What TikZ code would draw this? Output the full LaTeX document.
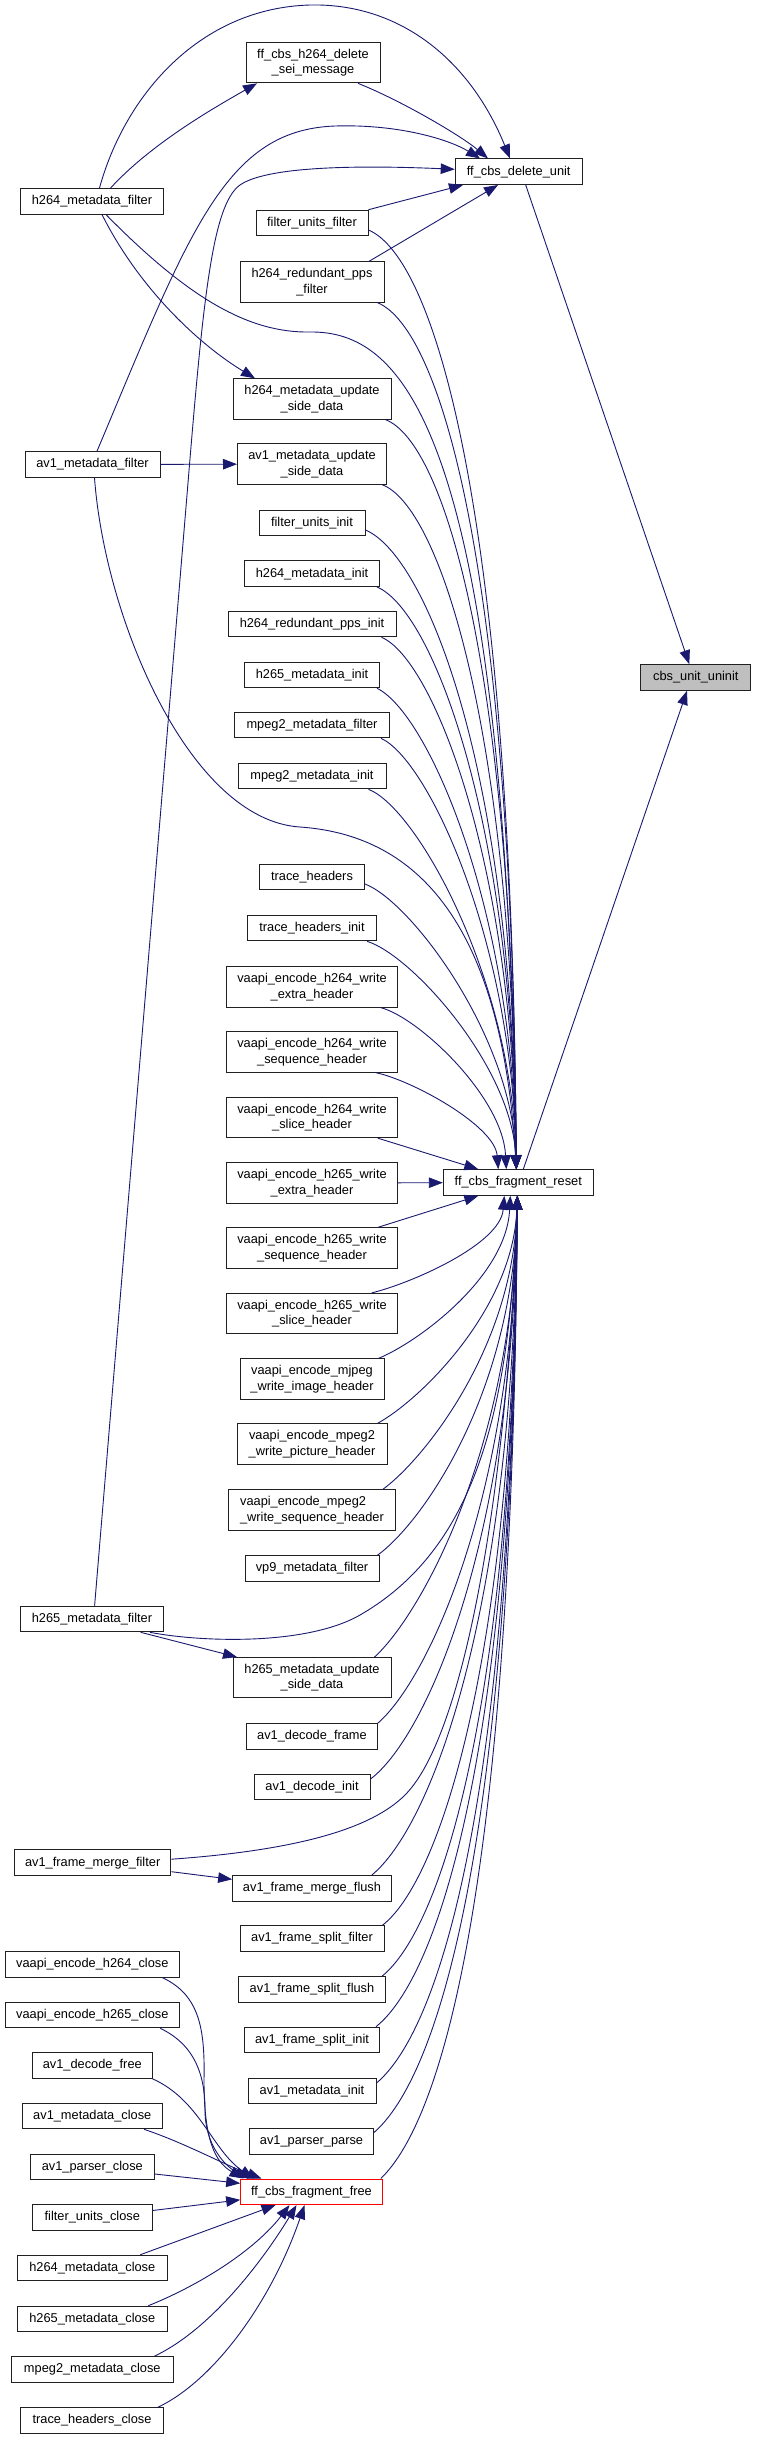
\documentclass[tikz,border=0pt]{standalone}
\usepackage{fontspec}
\setmainfont{Liberation Sans}
\usetikzlibrary{arrows.meta,calc}
\definecolor{edgec}{HTML}{191970}
\definecolor{nodegray}{HTML}{BFBFBF}
\definecolor{bordc}{HTML}{202020}
\newcommand\myredge[5]{\draw[calledge] let \p1=(#1), \p2=(#2) in (\p1) .. controls ({\x1+#3*(\x2-\x1)},{\y1+#4*(\y2-\y1)}) and ({\x2-0.03*(\x2-\x1)},{\y1+#5*(\y2-\y1)}) .. (\p2);}
\begin{document}
\begin{tikzpicture}[x=1pt,y=-1pt,
  fnbox/.style={draw=bordc, line width=1pt, fill=white, minimum height=25.6pt, inner xsep=4pt, inner ysep=0pt, align=center, font=\fontsize{12.8}{15.7}\selectfont},
  fnbox2/.style={fnbox, minimum height=40.3pt},
  calledge/.style={draw=edgec, line width=0.9pt, -{Triangle[length=14pt,width=10.5pt]}}]
\fill[white] (0,0) rectangle (756,2439);
\useasboundingbox (0,0) rectangle (756,2439);
% nodes
\node[fnbox2,minimum width=134pt] (sei) at (313,62.7) {ff\_cbs\_h264\_delete\\\_sei\_message};
\node[fnbox,minimum width=127pt] (delunit) at (518.7,171.7) {ff\_cbs\_delete\_unit};
\node[fnbox,minimum width=110pt,fill=nodegray] (uninit) at (695.8,677.5) {cbs\_unit\_uninit};
\node[fnbox,minimum width=143pt] (h264mf) at (92,201.3) {h264\_metadata\_filter};
\node[fnbox,minimum width=112pt] (fuf) at (312,223) {filter\_units\_filter};
\node[fnbox2,minimum width=144pt] (h264rpf) at (312,282) {h264\_redundant\_pps\\\_filter};
\node[fnbox2,minimum width=158pt] (h264mus) at (312,399) {h264\_metadata\_update\\\_side\_data};
\node[fnbox,minimum width=135pt] (av1mf) at (92.5,464.5) {av1\_metadata\_filter};
\node[fnbox2,minimum width=149pt] (av1mus) at (312,464) {av1\_metadata\_update\\\_side\_data};
\node[fnbox,minimum width=106pt] (fui) at (312,523) {filter\_units\_init};
\node[fnbox,minimum width=135pt] (h264mi) at (312,573.7) {h264\_metadata\_init};
\node[fnbox,minimum width=168pt] (h264rpi) at (312,624) {h264\_redundant\_pps\_init};
\node[fnbox,minimum width=135pt] (h265mi) at (312,675) {h265\_metadata\_init};
\node[fnbox,minimum width=155pt] (m2mf) at (312,725) {mpeg2\_metadata\_filter};
\node[fnbox,minimum width=148pt] (m2mi) at (312,776) {mpeg2\_metadata\_init};
\node[fnbox,minimum width=105pt] (th) at (312,877) {trace\_headers};
\node[fnbox,minimum width=129pt] (thi) at (312,928) {trace\_headers\_init};
\node[fnbox2,minimum width=170.6pt] (v264e) at (312,987) {vaapi\_encode\_h264\_write\\\_extra\_header};
\node[fnbox2,minimum width=170.6pt] (v264seq) at (312,1052) {vaapi\_encode\_h264\_write\\\_sequence\_header};
\node[fnbox2,minimum width=170.6pt] (v264sl) at (312,1117.5) {vaapi\_encode\_h264\_write\\\_slice\_header};
\node[fnbox2,minimum width=170.6pt] (v265e) at (312,1183) {vaapi\_encode\_h265\_write\\\_extra\_header};
\node[fnbox,minimum width=150pt] (reset) at (518.3,1182.5) {ff\_cbs\_fragment\_reset};
\node[fnbox2,minimum width=170.6pt] (v265seq) at (312,1248) {vaapi\_encode\_h265\_write\\\_sequence\_header};
\node[fnbox2,minimum width=170.6pt] (v265sl) at (312,1313.5) {vaapi\_encode\_h265\_write\\\_slice\_header};
\node[fnbox2,minimum width=144pt] (vmjpeg) at (312,1379) {vaapi\_encode\_mjpeg\\\_write\_image\_header};
\node[fnbox2,minimum width=150pt] (vm2pic) at (312,1444) {vaapi\_encode\_mpeg2\\\_write\_picture\_header};
\node[fnbox2,minimum width=166.6pt,align=left] (vm2seq) at (312,1510) {vaapi\_encode\_mpeg2\\\_write\_sequence\_header};
\node[fnbox,minimum width=134pt] (vp9) at (312,1568.5) {vp9\_metadata\_filter};
\node[fnbox,minimum width=143pt] (h265mf) at (92,1619) {h265\_metadata\_filter};
\node[fnbox2,minimum width=158pt] (h265mus) at (312,1677.7) {h265\_metadata\_update\\\_side\_data};
\node[fnbox,minimum width=130.6pt] (av1df) at (312,1736.5) {av1\_decode\_frame};
\node[fnbox,minimum width=116pt] (av1di) at (312,1787) {av1\_decode\_init};
\node[fnbox,minimum width=156.5pt] (av1fmf) at (92.7,1862.7) {av1\_frame\_merge\_filter};
\node[fnbox,minimum width=158.7pt] (av1fmfl) at (312,1888.3) {av1\_frame\_merge\_flush};
\node[fnbox,minimum width=144pt] (av1fsf) at (312,1938.5) {av1\_frame\_split\_filter};
\node[fnbox,minimum width=174.6pt] (v264c) at (92.3,1964.3) {vaapi\_encode\_h264\_close};
\node[fnbox,minimum width=147pt] (av1fsfl) at (312,1989.5) {av1\_frame\_split\_flush};
\node[fnbox,minimum width=174.6pt] (v265c) at (92.3,2015) {vaapi\_encode\_h265\_close};
\node[fnbox,minimum width=135pt] (av1fsi) at (312,2040) {av1\_frame\_split\_init};
\node[fnbox,minimum width=119.5pt] (av1dfree) at (92.3,2065.5) {av1\_decode\_free};
\node[fnbox,minimum width=128pt] (av1mi) at (312,2091) {av1\_metadata\_init};
\node[fnbox,minimum width=140.6pt] (av1mc) at (92.3,2116) {av1\_metadata\_close};
\node[fnbox,minimum width=124pt] (av1pp) at (311.5,2141.5) {av1\_parser\_parse};
\node[fnbox,minimum width=124pt] (av1pc) at (92.3,2167) {av1\_parser\_close};
\node[fnbox,minimum width=141.6pt,draw=red] (free) at (311.5,2191.8) {ff\_cbs\_fragment\_free};
\node[fnbox,minimum width=119.5pt] (fuc) at (92.3,2217.5) {filter\_units\_close};
\node[fnbox,minimum width=150.5pt] (h264mc) at (92.3,2268) {h264\_metadata\_close};
\node[fnbox,minimum width=150.5pt] (h265mc) at (92.3,2319) {h265\_metadata\_close};
\node[fnbox,minimum width=161.4pt] (m2mc) at (92.3,2369.5) {mpeg2\_metadata\_close};
\node[fnbox,minimum width=143pt] (thc) at (92,2420.5) {trace\_headers\_close};
% edges to cbs_unit_uninit
\draw[calledge] ([xshift=7pt]delunit.south) -- ([xshift=-6.5pt]uninit.north);
\draw[calledge] ([xshift=5pt]reset.north) -- ([xshift=-8.8pt]uninit.south);
% edges to ff_cbs_delete_unit and others
\draw[calledge] ([xshift=45pt]sei.south) .. controls (400,100) and (460,135) .. ([xshift=-30.7pt]delunit.north);
\draw[calledge] ([xshift=18.6pt]h264mf.north) .. controls (150,145) and (210,110) .. ([xshift=-56pt]sei.south);
\draw[calledge] ([xshift=7.5pt]h264mf.north) .. controls (125,95) and (200,8) .. (310,5) .. controls (400,3) and (470,60) .. ([xshift=-8.7pt]delunit.north);
\draw[calledge] ([xshift=10pt]h264mf.south) .. controls (140,290) and (200,345) .. ([xshift=-57pt]h264mus.north);
\draw[calledge] ([xshift=14pt]h264mf.south) .. controls (190,300) and (250,333) .. (310,332) .. controls (400,331) and (505,420) .. ([xshift=-2pt]reset.north);
\draw[calledge] ([xshift=4.5pt]av1mf.north) .. controls (190,230) and (225,130) .. (335,126) .. controls (400,124) and (450,140) .. ([xshift=-38.7pt]delunit.north);
\draw[calledge] (av1mf) -- (av1mus);
\draw[calledge] ([xshift=2pt]av1mf.south) .. controls (105,620) and (190,820) .. (300,827) .. controls (400,834) and (500,900) .. ([xshift=-2pt]reset.north);
\draw[calledge] (fuf.north east) -- ([xshift=-55.7pt]delunit.south);
\draw[calledge] ([xshift=57pt]h264rpf.north) -- ([xshift=-20.7pt]delunit.south);
\draw[calledge] ([xshift=2.6pt]h265mf.north) -- (187,495) .. controls (203,300) and (212,205) .. (240,185) .. controls (270,164) and (380,166) .. ([yshift=2.4pt]delunit.west);
\draw[calledge] ([xshift=48.7pt]h265mf.south) -- ([xshift=-75pt]h265mus.north);
\draw[calledge] ([xshift=58pt]h265mf.south) .. controls (200,1642) and (306,1646) .. (360,1615) .. controls (480,1546) and (510,1400) .. ([xshift=-1pt]reset.south);
\draw[calledge] ([yshift=3.5pt]av1fmf.east) .. controls (300,1850) and (372,1828) .. (405,1795) .. controls (470,1730) and (510,1450) .. ([xshift=-1pt]reset.south);
\draw[calledge] ([yshift=-9pt]av1fmf.east) -- ([yshift=9pt]av1fmfl.west);
\draw[calledge] (v265e) -- (reset);
\draw[calledge] ([xshift=-20pt]v264sl.south east) -- ([xshift=-40pt]reset.north);
\draw[calledge] ([xshift=-20pt]v265seq.north east) -- ([xshift=-40pt]reset.south);
% fan into ff_cbs_fragment_reset from above
\myredge{[yshift=-7pt]fuf.east}{[xshift=-2pt]reset.north}{0.45}{0.03}{0.3}
\myredge{[xshift=-7pt]h264rpf.south east}{[xshift=-2pt]reset.north}{0.45}{0.03}{0.3}
\myredge{[xshift=-6pt]h264mus.south east}{[xshift=-2pt]reset.north}{0.45}{0.03}{0.33}
\myredge{[xshift=-5pt]av1mus.south east}{[xshift=-2pt]reset.north}{0.42}{0.03}{0.35}
\myredge{[yshift=-7pt]fui.east}{[xshift=-2pt]reset.north}{0.4}{0.04}{0.37}
\myredge{[xshift=-3pt]h264mi.south east}{[xshift=-2pt]reset.north}{0.4}{0.04}{0.4}
\myredge{[xshift=-15pt]h264rpi.south east}{[xshift=-2pt]reset.north}{0.38}{0.04}{0.42}
\myredge{[xshift=-3pt]h265mi.south east}{[xshift=-2pt]reset.north}{0.36}{0.05}{0.45}
\myredge{[xshift=-9pt]m2mf.south east}{[xshift=-2pt]reset.north}{0.35}{0.05}{0.47}
\myredge{[xshift=-18pt]m2mi.south east}{[xshift=-2pt]reset.north}{0.33}{0.05}{0.5}
\myredge{[yshift=-7pt]th.east}{[xshift=-2pt]reset.north}{0.3}{0.06}{0.53}
\myredge{[xshift=-10pt]thi.south east}{[xshift=-2pt]reset.north}{0.3}{0.06}{0.55}
\myredge{[xshift=-17pt]v264e.south east}{[xshift=-12pt]reset.north}{0.3}{0.06}{0.55}
\myredge{[xshift=-22pt]v264seq.south east}{[xshift=-20pt]reset.north}{0.3}{0.08}{0.55}
% fan into ff_cbs_fragment_reset from below
\myredge{[xshift=-26pt]v265sl.north east}{[xshift=-14pt]reset.south}{0.3}{0.1}{0.5}
\myredge{[xshift=-6pt]vmjpeg.north east}{[xshift=-8pt]reset.south}{0.3}{0.1}{0.5}
\myredge{[xshift=-10pt]vm2pic.north east}{[xshift=-1pt]reset.south}{0.3}{0.1}{0.5}
\myredge{[xshift=-13pt]vm2seq.north east}{[xshift=-1pt]reset.south}{0.3}{0.1}{0.48}
\myredge{[xshift=-2pt]vp9.north east}{[xshift=-1pt]reset.south}{0.32}{0.09}{0.45}
\myredge{[xshift=-17pt]h265mus.north east}{[xshift=-1pt]reset.south}{0.32}{0.09}{0.45}
\myredge{av1df.north east}{[xshift=-1pt]reset.south}{0.35}{0.08}{0.42}
\myredge{[yshift=8pt]av1di.east}{[xshift=-1pt]reset.south}{0.37}{0.07}{0.4}
\myredge{[xshift=-20pt]av1fmfl.north east}{[xshift=-1pt]reset.south}{0.4}{0.07}{0.38}
\myredge{[xshift=-2pt]av1fsf.north east}{[xshift=-1pt]reset.south}{0.42}{0.06}{0.36}
\myredge{[xshift=-4pt]av1fsfl.north east}{[xshift=-1pt]reset.south}{0.43}{0.06}{0.34}
\myredge{[xshift=-4pt]av1fsi.north east}{[xshift=-1pt]reset.south}{0.44}{0.06}{0.33}
\myredge{[yshift=8pt]av1mi.east}{[xshift=-1pt]reset.south}{0.45}{0.06}{0.32}
\myredge{[yshift=9pt]av1pp.east}{[xshift=-1pt]reset.south}{0.45}{0.06}{0.31}
\myredge{[xshift=-2pt]free.north east}{[xshift=-1pt]reset.south}{0.45}{0.06}{0.3}
% into ff_cbs_fragment_free
\draw[calledge] ([xshift=70pt]v264c.south) .. controls (200,1995) and (205,2030) .. (204,2080) .. controls (204,2140) and (215,2162) .. ([xshift=-68pt]free.north);
\draw[calledge] ([xshift=68pt]v265c.south) .. controls (195,2045) and (205,2075) .. (205,2110) .. controls (205,2145) and (225,2166) .. ([xshift=-63pt]free.north);
\draw[calledge] (av1dfree.south east) .. controls (200,2100) and (212,2150) .. ([xshift=-58pt]free.north);
\draw[calledge] ([xshift=-19pt]av1mc.south east) .. controls (185,2143) and (225,2165) .. ([xshift=-50pt]free.north);
\draw[calledge] ([yshift=-7pt]av1pc.east) -- ([yshift=8.5pt]free.west);
\draw[calledge] ([yshift=7pt]fuc.east) -- ([yshift=-8pt]free.west);
\draw[calledge] ([xshift=48pt]h264mc.north) -- ([xshift=-36pt]free.south);
\draw[calledge] ([xshift=56pt]h265mc.north) .. controls (200,2285) and (255,2250) .. ([xshift=-22pt]free.south);
\draw[calledge] ([xshift=62pt]m2mc.north) .. controls (210,2330) and (262,2262) .. ([xshift=-15pt]free.south);
\draw[calledge] ([xshift=66pt]thc.north) .. controls (215,2380) and (272,2300) .. ([xshift=-7pt]free.south);
\end{tikzpicture}
\end{document}
